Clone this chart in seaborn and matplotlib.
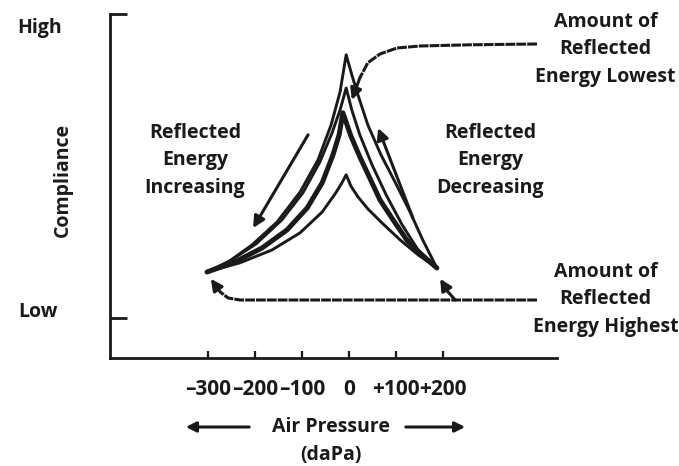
import matplotlib
matplotlib.use("Agg")
import matplotlib.pyplot as plt
import seaborn as sns
import pandas as pd

# air pressure in daPa, compliance in arbitrary units (Low = 1)
tick_values = [-300, -200, -100, 0, 100, 200]
tick_labels = ["\u2013300", "\u2013200", "\u2013100", "0", "+100", "+200"]

outer_x = [-302, -257, -206, -153, -104, -66, -38, -19, -6,
           6, 19, 40, 68, 98, 130, 157, 187]
outer_y = [2.15, 2.40, 2.83, 3.40, 4.15, 4.95, 5.83, 6.65, 7.58,
           7.08, 6.58, 5.83, 5.08, 4.40, 3.65, 2.95, 2.25]

inner_x = [-302, -253, -198, -143, -98, -62, -36, -19, -6,
           6, 23, 49, 79, 113, 147, 187]
inner_y = [2.15, 2.43, 2.85, 3.45, 4.13, 4.90, 5.63, 6.20, 6.75,
           6.20, 5.58, 4.83, 4.08, 3.33, 2.70, 2.25]

thick_x = [-302, -243, -185, -132, -89, -57, -34, -21, -13,
           4, 23, 45, 66, 94, 123, 155, 187]
thick_y = [2.15, 2.40, 2.75, 3.20, 3.75, 4.38, 5.08, 5.58, 6.13,
           5.55, 5.03, 4.48, 3.95, 3.45, 2.95, 2.58, 2.25]

lower_x = [-302, -232, -164, -104, -57, -28, -15, -6,
           4, 19, 40, 70, 109, 147, 187]
lower_y = [2.15, 2.38, 2.70, 3.13, 3.65, 4.13, 4.38, 4.58,
           4.30, 4.03, 3.73, 3.38, 2.95, 2.58, 2.25]

# arrows
inc_x, inc_y = [-87, -204], [5.58, 3.25]
dec_x, dec_y = [136, 62], [3.50, 5.75]
lowest_x = [400, 257, 151, 102, 66, 40, 23, 6]
lowest_y = [7.85, 7.83, 7.80, 7.75, 7.60, 7.38, 7.00, 6.45]
highest_x = [400, -232, -257, -274, -285, -294]
highest_y = [1.45, 1.45, 1.50, 1.65, 1.83, 1.98]
branch_x = [226, 211, 194]
branch_y = [1.45, 1.65, 1.98]

sns.set_theme(style="white")
plt.rcParams["font.family"] = ["Open Sans", "DejaVu Sans"]

W, H = 679, 466
ink = "#1a1a1a"
fig = plt.figure(figsize=(W / 100, H / 100), dpi=100)
ax = fig.add_axes([110 / W, (H - 358) / H, 447 / W, 344 / H])

curves = pd.concat([
    pd.DataFrame({"x": outer_x, "y": outer_y, "curve": "outer"}),
    pd.DataFrame({"x": inner_x, "y": inner_y, "curve": "inner"}),
    pd.DataFrame({"x": thick_x, "y": thick_y, "curve": "thick"}),
    pd.DataFrame({"x": lower_x, "y": lower_y, "curve": "lower"}),
])
widths = {"outer": 2.1, "inner": 2.1, "thick": 3.6, "lower": 2.1}
for name, grp in curves.groupby("curve"):
    sns.lineplot(data=grp, x="x", y="y", sort=False, estimator=None,
                 color=ink, lw=widths[name], ax=ax)
for ln in ax.lines:
    ln.set_solid_joinstyle("round")


def arrow_path(xs, ys, dashed=False):
    if len(xs) > 2:
        sns.lineplot(x=xs[:-1], y=ys[:-1], sort=False, estimator=None,
                     color=ink, lw=2.2, ax=ax)
        if dashed:
            ax.lines[-1].set_dashes((3.2, 0.35))
    ax.annotate("", xy=(xs[-1], ys[-1]), xytext=(xs[-2], ys[-2]),
                arrowprops=dict(arrowstyle="-|>", color=ink, lw=2.2,
                                mutation_scale=17, shrinkA=0, shrinkB=0))


arrow_path(inc_x, inc_y)
arrow_path(dec_x, dec_y)
arrow_path(lowest_x, lowest_y, dashed=True)
arrow_path(highest_x, highest_y, dashed=True)
arrow_path(branch_x, branch_y)

ax.set_xlim(-508.5, 442.6)
ax.set_ylim(0, 8.6)
sns.despine(ax=ax)
for s in ["left", "bottom"]:
    ax.spines[s].set_color(ink)
    ax.spines[s].set_linewidth(2.0)

ax.set_xticks(tick_values)
ax.set_xticklabels(tick_labels, fontsize=15, fontweight="bold")
ax.tick_params(axis="x", direction="in", length=5, width=1.6, pad=15,
               colors=ink, bottom=True)
ax.set_yticks([1, 8.6])
ax.set_yticklabels([])
ax.tick_params(axis="y", direction="in", length=12, width=2.0,
               colors=ink, left=True)
ax.set_xlabel("")
ax.set_ylabel("")

txt = dict(fontsize=14, fontweight="bold", color=ink,
           ha="center", va="center", linespacing=1.5)
ax.text(-0.157, 0.958, "High", transform=ax.transAxes, **txt)
ax.text(-0.16, 0.134, "Low", transform=ax.transAxes, **txt)
ax.text(-0.105, 0.517, "Compliance", transform=ax.transAxes, rotation=90, **txt)
ax.text(-328, 4.95, "Reflected\nEnergy\nIncreasing", **txt)
ax.text(300, 4.95, "Reflected\nEnergy\nDecreasing", **txt)
ax.text(546, 7.72, "Amount of\nReflected\nEnergy Lowest", **txt)
ax.text(546, 1.47, "Amount of\nReflected\nEnergy Highest", **txt)

fig.text(331 / W, 1 - 427 / H, "Air Pressure", **txt)
fig.text(331 / W, 1 - 455 / H, "(daPa)", **txt)
for x0, x1 in [(252, 183), (403, 468)]:
    fig.add_artist(matplotlib.patches.FancyArrowPatch(
        (x0 / W, 1 - 427 / H), (x1 / W, 1 - 427 / H), transform=fig.transFigure,
        arrowstyle="-|>", mutation_scale=15, color=ink, lw=2.2))

fig.savefig("out.png", dpi=100, facecolor="white")
